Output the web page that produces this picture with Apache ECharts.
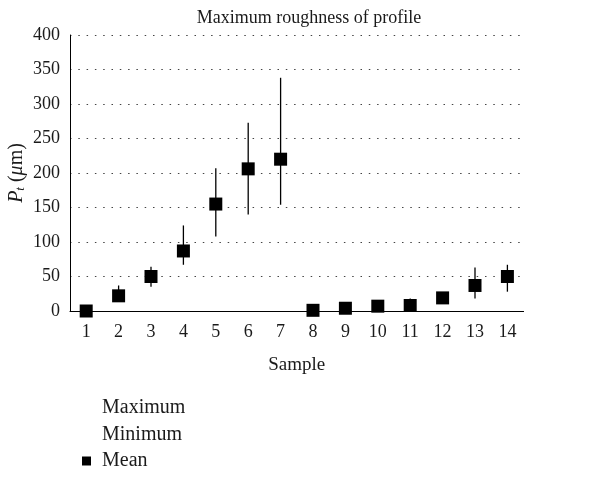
<!DOCTYPE html>
<html><head><meta charset="utf-8">
<script src="https://cdn.jsdelivr.net/npm/echarts@6/dist/echarts.min.js"></script>
<style>html,body{margin:0;padding:0;background:#fff}#c{width:609px;height:477px}</style>
</head><body><div id="c"></div>
<script>
const categories = ['1','2','3','4','5','6','7','8','9','10','11','12','13','14'];
const meanValues = [0, 22, 50, 87, 155, 206, 220, 1, 4, 7, 8, 19, 37, 50];
const maxValues  = [1, 37, 64, 124, 207, 273, 338, 2, 5, 9, 18, 20, 63, 67];
const minValues  = [0, 18, 35, 67, 108, 140, 154, 0, 3, 6, 7, 17, 18, 28];

const FONT = '"Liberation Serif", "DejaVu Serif", serif';
const TXT = '#1a1a1a';

function whisker(fromArr, toArr) {
  return function (params, api) {
    const i = api.value(0);
    const a = api.coord([i, fromArr[i]]);
    const b = api.coord([i, toArr[i]]);
    return {type:'line', shape:{x1:a[0], y1:a[1], x2:b[0], y2:b[1]},
            style:{stroke:'#000', lineWidth:1.3}};
  };
}

const chart = echarts.init(document.getElementById('c'));
chart.setOption({
  animation: false,
  title: {text:'Maximum roughness of profile', left: 304, top: 4, textAlign:'center',
          textStyle:{fontFamily:FONT, fontSize:18, fontWeight:'normal', color:TXT}},
  grid: {left:70, right:85.4, top:35, bottom:166, outerBoundsMode:'none', containLabel:false},
  legend: {orient:'vertical', left:82, top:398, padding:0, itemGap:6.5, itemWidth:9, itemHeight:9,
           textStyle:{fontFamily:FONT, fontSize:20, color:TXT, padding:[0,0,0,6]},
           data:[{name:'Maximum', itemStyle:{opacity:0}},
                 {name:'Minimum', itemStyle:{opacity:0}},
                 {name:'Mean', icon:'rect'}]},
  xAxis: {type:'category', data:categories, boundaryGap:true,
          name:'Sample', nameLocation:'middle', nameGap:45, nameMoveOverlap:false,
          nameTextStyle:{fontFamily:FONT, fontSize:19, color:TXT},
          axisLine:{lineStyle:{color:'#000', width:1}}, axisTick:{show:false},
          axisLabel:{fontFamily:FONT, fontSize:18, color:TXT, margin:12}},
  yAxis: {type:'value', min:0, max:400, interval:50,
          name:'{i|P}{s|t} ({g|μ}m)', nameLocation:'middle', nameGap:43, nameRotate:90,
          nameMoveOverlap:false,
          nameTextStyle:{fontFamily:FONT, fontSize:20, color:TXT,
            rich:{i:{fontFamily:FONT, fontSize:20, fontStyle:'italic', color:TXT},
                  s:{fontFamily:FONT, fontSize:13, fontStyle:'italic', color:TXT, padding:[8,0,0,0]},
                  g:{fontFamily:FONT, fontSize:20, fontStyle:'italic', color:TXT}}},
          axisLine:{show:true, lineStyle:{color:'#000', width:1}}, axisTick:{show:false},
          splitLine:{show:true, lineStyle:{type:[1.5,6.8], color:'#444', width:1}},
          axisLabel:{fontFamily:FONT, fontSize:18, color:TXT, margin:10}},
  series: [
    {name:'Maximum', type:'custom', renderItem: whisker(meanValues, maxValues),
     data: categories.map((c,i)=>[i, maxValues[i]]), itemStyle:{color:'#000'}, z:2},
    {name:'Minimum', type:'custom', renderItem: whisker(meanValues, minValues),
     data: categories.map((c,i)=>[i, minValues[i]]), itemStyle:{color:'#000'}, z:2},
    {name:'Mean', type:'scatter', symbol:'rect', symbolSize:13, data: meanValues,
     itemStyle:{color:'#000', opacity:1}, z:5}
  ]
});
</script></body></html>
